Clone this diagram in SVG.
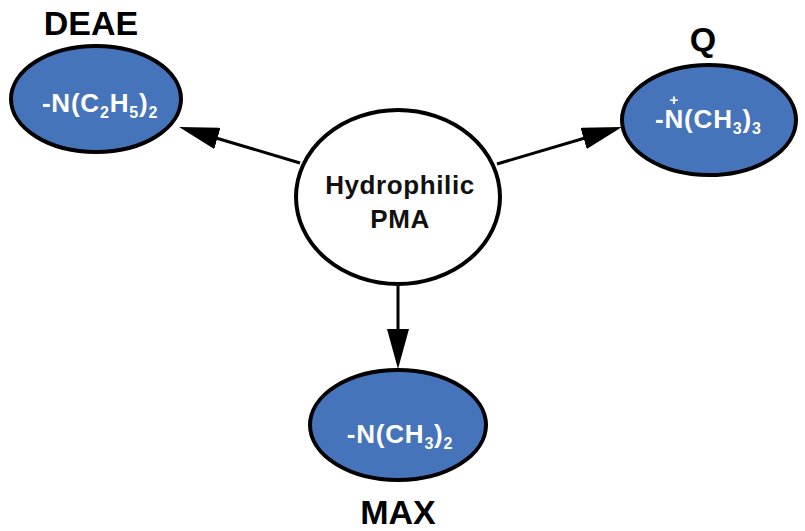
<svg xmlns="http://www.w3.org/2000/svg" width="805" height="531" viewBox="0 0 805 531">
<style>
.blue{fill:#4674BA;stroke:#000;stroke-width:4}
.white{fill:#fff;stroke:#000;stroke-width:4}
.conn{stroke:#000;stroke-width:3;fill:none}
.title{font-family:"Liberation Sans",Arial,sans-serif;font-weight:bold;font-size:34px;fill:#000;text-anchor:middle}
.chem{font-family:"Liberation Sans",Arial,sans-serif;font-weight:bold;font-size:26px;fill:#fff;letter-spacing:0.8px}
.mid{text-anchor:middle}
.sub{font-size:16px}
.plus{font-size:15px}
.center{font-family:"Liberation Sans",Arial,sans-serif;font-weight:bold;font-size:26px;fill:#111;text-anchor:middle;letter-spacing:0.6px}
</style>
<defs>
<marker id="arr" viewBox="0 0 40 22" refX="20" refY="11" markerWidth="40" markerHeight="22" markerUnits="userSpaceOnUse" orient="auto">
<path d="M0,0 L40,11 L0,22 Z" fill="#000"/>
</marker>
</defs>
<rect width="805" height="531" fill="#fff"/>
<g id="connectors">
<line class="conn" x1="300" y1="163" x2="198.2" y2="132.7" marker-end="url(#arr)"/>
<line class="conn" x1="497" y1="164" x2="602.8" y2="132.7" marker-end="url(#arr)"/>
<line class="conn" x1="398" y1="284" x2="398" y2="349" marker-end="url(#arr)"/>
</g>
<g id="center">
<ellipse class="white" cx="398" cy="197" rx="102" ry="87"/>
<text class="center" x="400" y="194">Hydrophilic</text>
<text class="center" x="400" y="228">PMA</text>
</g>
<g id="deae">
<text class="title" x="91" y="35">DEAE</text>
<ellipse class="blue" cx="96" cy="99" rx="85" ry="53"/>
<text class="chem mid" x="100" y="112">-N(C<tspan class="sub" dy="6">2</tspan><tspan dy="-6">H</tspan><tspan class="sub" dy="6">5</tspan><tspan dy="-6">)</tspan><tspan class="sub" dy="6">2</tspan></text>
</g>
<g id="q">
<text class="title" x="703" y="51">Q</text>
<ellipse class="blue" cx="709" cy="120" rx="87" ry="55"/>
<text class="chem" x="655" y="128">-<tspan class="plus" dx="5" dy="-23">+</tspan><tspan dx="-14.5" dy="23">N(CH</tspan><tspan class="sub" dy="6">3</tspan><tspan dy="-6">)</tspan><tspan class="sub" dy="6">3</tspan></text>
</g>
<g id="max">
<ellipse class="blue" cx="398" cy="425" rx="88" ry="55"/>
<text class="chem mid" x="400" y="443">-N(CH<tspan class="sub" dy="6">3</tspan><tspan dy="-6">)</tspan><tspan class="sub" dy="6">2</tspan></text>
<text class="title" x="398" y="524">MAX</text>
</g>
</svg>
